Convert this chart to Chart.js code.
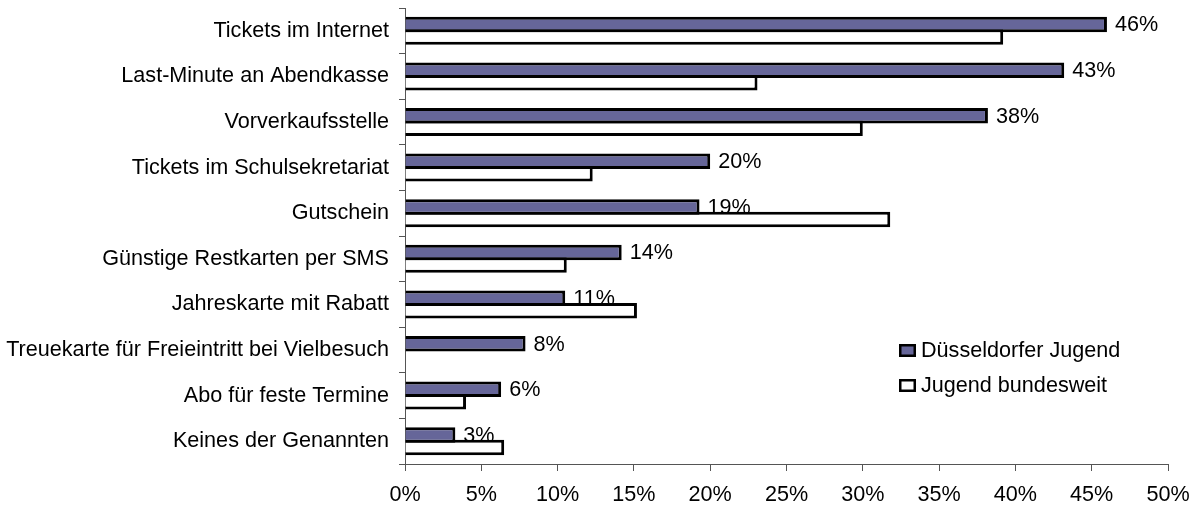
<!DOCTYPE html>
<html lang="de">
<head>
<meta charset="utf-8">
<title>Ticketwünsche</title>
<script src="https://cdn.jsdelivr.net/npm/chart.js@4/dist/chart.umd.min.js"></script>
<style>
  html, body { margin: 0; padding: 0; background: #fff; }
  canvas { display: block; }
</style>
</head>
<body>
<canvas id="chart" width="1196" height="507"></canvas>
<script>
// Angebote, nach denen gefragt wurde
const categories = [
  'Tickets im Internet',
  'Last-Minute an Abendkasse',
  'Vorverkaufsstelle',
  'Tickets im Schulsekretariat',
  'Gutschein',
  'Günstige Restkarten per SMS',
  'Jahreskarte mit Rabatt',
  'Treuekarte für Freieintritt bei Vielbesuch',
  'Abo für feste Termine',
  'Keines der Genannten'
];

// Anteile in Prozent
const duesseldorf = [46.0, 43.2, 38.2, 20.0, 19.3, 14.2, 10.5, 7.9, 6.3, 3.3];
const bundesweit = [39.2, 23.1, 30.0, 12.3, 31.8, 10.6, 15.2, null, 4.0, 6.5];

const seriesNames = ['Düsseldorfer Jugend', 'Jugend bundesweit'];
const axisMax = 50;
const axisStep = 5;

const FONT_FAMILY = '"Liberation Sans", Arial, Helvetica, sans-serif';
const FONT_SIZE = 21.6;
const DARK = '#666699';
const AXIS = '#555555';

// Prozentwerte rechts neben den Balken der Düsseldorfer Reihe;
// vor den Balken gezeichnet, damit die weißen Balken sie überdecken
const valueLabels = {
  id: 'valueLabels',
  beforeDatasetsDraw(chart) {
    const ctx = chart.ctx;
    const meta = chart.getDatasetMeta(0);
    ctx.save();
    ctx.font = FONT_SIZE + 'px ' + FONT_FAMILY;
    ctx.fillStyle = '#000';
    ctx.textAlign = 'left';
    ctx.textBaseline = 'middle';
    meta.data.forEach((bar, i) => {
      const v = chart.data.datasets[0].data[i];
      if (v == null) return;
      ctx.fillText(Math.round(v) + '%', bar.x + 8, bar.y + 1);
    });
    ctx.restore();
  }
};

// Legende im Diagrammbereich unten rechts
const boxLegend = {
  id: 'boxLegend',
  afterDraw(chart) {
    const ctx = chart.ctx;
    const area = chart.chartArea;
    const x = area.left + 494;
    const y0 = 350;
    const gap = 35;
    ctx.save();
    ctx.font = FONT_SIZE + 'px ' + FONT_FAMILY;
    ctx.textAlign = 'left';
    ctx.textBaseline = 'middle';
    chart.data.datasets.forEach((ds, i) => {
      const y = y0 + i * gap;
      ctx.fillStyle = ds.backgroundColor;
      ctx.fillRect(x, y - 6, 17, 13);
      ctx.lineWidth = 2.5;
      ctx.strokeStyle = '#000';
      ctx.strokeRect(x + 1.25, y - 4.75, 14.5, 10.5);
      ctx.fillStyle = '#000';
      ctx.fillText(ds.label, x + 22, y + 1);
    });
    ctx.restore();
  }
};

new Chart(document.getElementById('chart'), {
  type: 'bar',
  data: {
    labels: categories,
    datasets: [
      {
        label: seriesNames[0],
        data: duesseldorf,
        backgroundColor: DARK,
        borderColor: '#000',
        borderWidth: 3
      },
      {
        label: seriesNames[1],
        data: bundesweit,
        backgroundColor: '#ffffff',
        borderColor: '#000',
        borderWidth: 3
      }
    ]
  },
  options: {
    indexAxis: 'y',
    responsive: false,
    animation: false,
    devicePixelRatio: 1,
    categoryPercentage: 0.5486,
    barPercentage: 1.24,
    layout: { padding: { top: 8, right: 28, left: 0, bottom: 0 } },
    plugins: {
      legend: { display: false },
      tooltip: { enabled: false }
    },
    scales: {
      y: {
        type: 'category',
        afterFit(scale) {
          scale.width = 405;
          scale.paddingTop = 0;
          scale.paddingBottom = 0;
        },
        grid: {
          offset: true,
          drawOnChartArea: false,
          tickLength: 6,
          color: AXIS
        },
        border: { color: AXIS, width: 1 },
        ticks: {
          padding: 10,
          color: '#000',
          font: { family: FONT_FAMILY, size: FONT_SIZE }
        }
      },
      x: {
        type: 'linear',
        min: 0,
        max: axisMax,
        afterFit(scale) {
          scale.height = 43;
          scale.paddingLeft = 0;
          scale.paddingRight = 0;
        },
        grid: {
          drawOnChartArea: false,
          tickLength: 7,
          color: AXIS
        },
        border: { color: AXIS, width: 1 },
        ticks: {
          stepSize: axisStep,
          padding: 11,
          color: '#000',
          font: { family: FONT_FAMILY, size: FONT_SIZE },
          callback: (v) => v + '%'
        }
      }
    }
  },
  plugins: [valueLabels, boxLegend]
});
</script>
</body>
</html>
